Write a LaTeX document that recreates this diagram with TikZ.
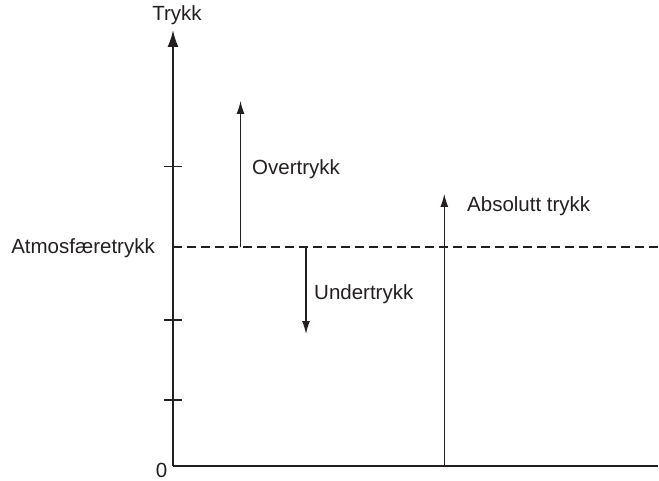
\documentclass[tikz,border=0pt]{standalone}
\usepackage{fontspec}
\setmainfont{Liberation Sans}
\usetikzlibrary{arrows.meta}
\definecolor{ink}{HTML}{231F20}
\begin{document}
\begin{tikzpicture}[x=1pt,y=-1pt,
  every node/.style={font=\fontsize{20.5}{24}\selectfont, text=ink, inner sep=0pt},
  axisline/.style={draw=ink, line width=2pt},
  thinarrow/.style={draw=ink, line width=1.2pt, -{Latex[length=13pt,width=8pt]}},
  axisarrow/.style={draw=ink, line width=2pt, -{Latex[length=17pt,width=11pt]}},
  tickline/.style={draw=ink, line width=1.2pt},
  dashline/.style={draw=ink, line width=1.2pt, dash pattern=on 9pt off 5pt}]
\useasboundingbox (0,0) rectangle (659,481);
% axis points
\coordinate (O) at (173,466);
\coordinate (Ytop) at (173,30);
\coordinate (Xend) at (658,466);
\coordinate (Atm) at (173,247);
\coordinate (AtmEnd) at (658,247);
% axes
\draw[axisarrow] (O) -- (Ytop);
\draw[axisline] (O) -- (Xend);
% ticks
\foreach \yy in {166.7,320,400}{
  \draw[tickline] (164,\yy) -- (182,\yy);
}
% dashed line
\draw[dashline] (Atm) -- (AtmEnd);
% arrows
\coordinate (OvS) at (240.5,247);
\coordinate (OvE) at (240.5,101);
\coordinate (UnS) at (306,247);
\coordinate (UnE) at (306,334);
\coordinate (AbS) at (444.3,466);
\coordinate (AbE) at (444.3,194);
\draw[thinarrow] (OvS) -- (OvE);
\draw[thinarrow] (UnS) -- (UnE);
\draw[thinarrow] (AbS) -- (AbE);
% labels
\node (trykk) at (177,15) {Trykk};
\node[anchor=east] (atm) at (155,248) {Atmosfæretrykk};
\node[anchor=base] (zero) at (161.5,477.5) {0};
\node[anchor=west] (over) at (252,169) {Overtrykk};
\node[anchor=west] (under) at (314,294) {Undertrykk};
\node[anchor=west] (abs) at (467,206) {Absolutt trykk};
\end{tikzpicture}
\end{document}
